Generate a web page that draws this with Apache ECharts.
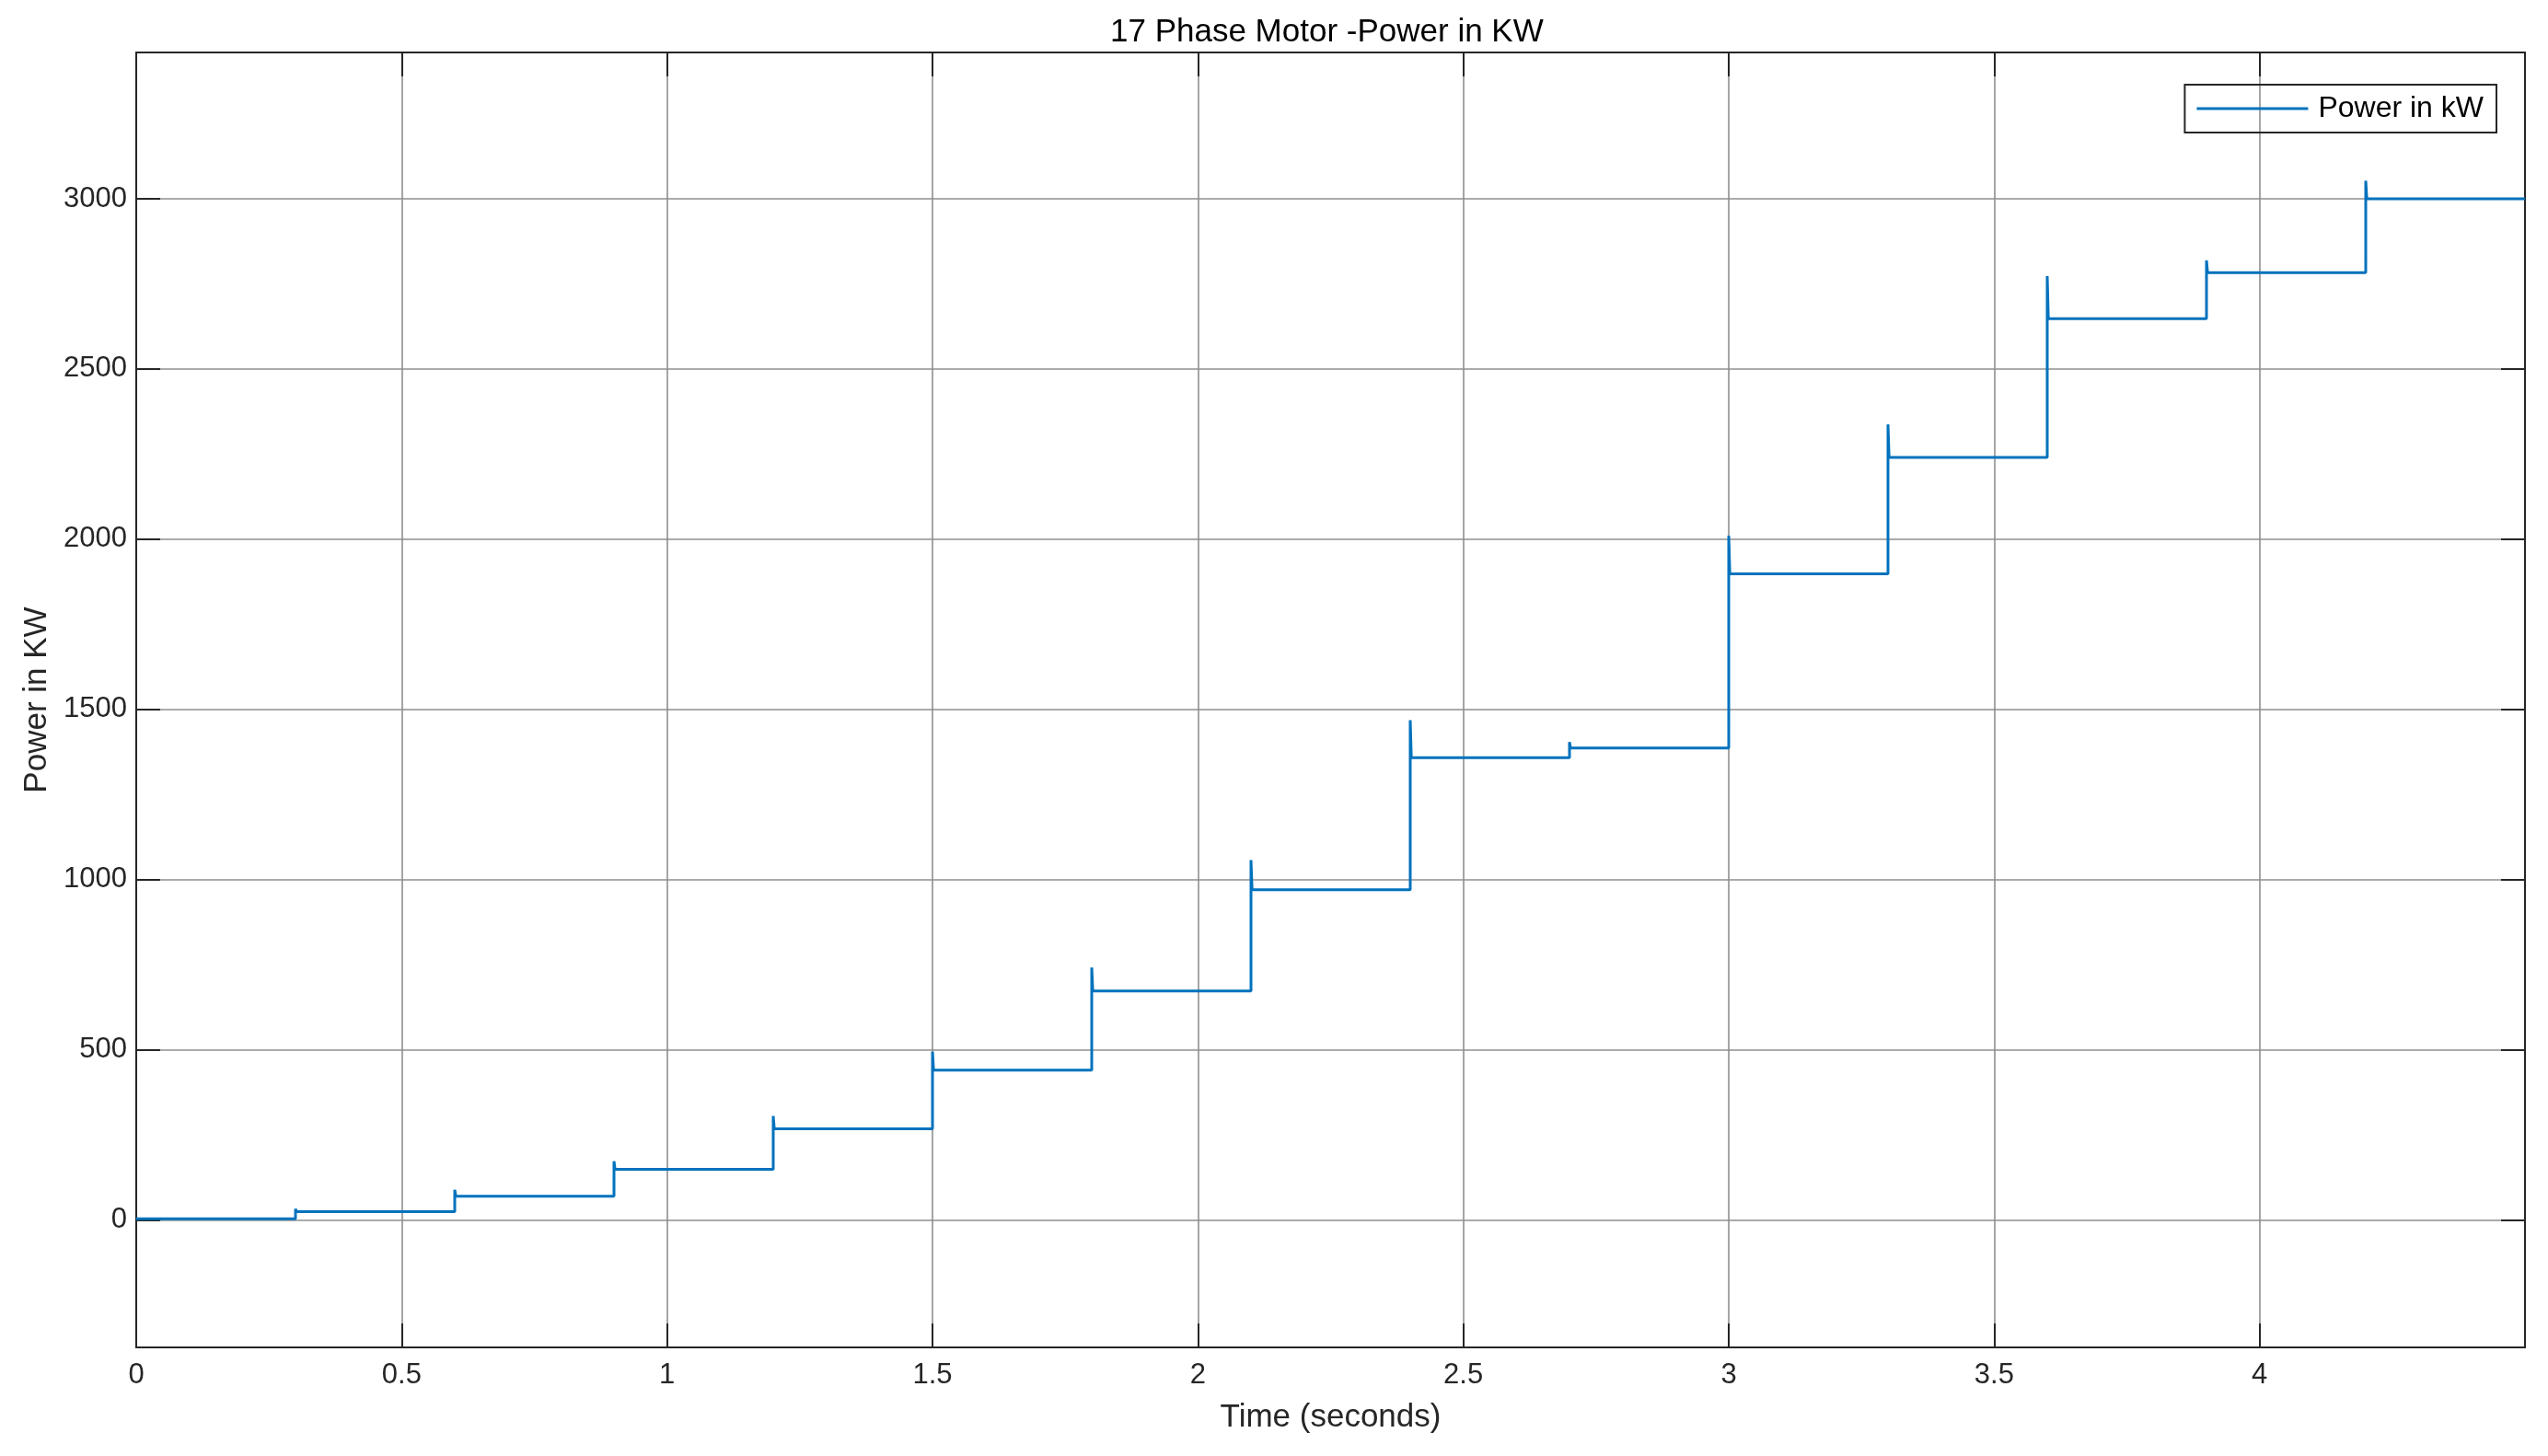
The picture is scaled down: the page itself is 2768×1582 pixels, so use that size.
<!DOCTYPE html>
<html>
<head>
<meta charset="utf-8">
<script src="https://cdn.jsdelivr.net/npm/echarts@6/dist/echarts.min.js"></script>
<style>
html,body{margin:0;padding:0;background:#fff;}
#chart{width:2768px;height:1582px;}
</style>
</head>
<body>
<div id="chart"></div>
<script>
// ---- data ----
const timeStart = 0;
const timeEnd = 4.5;
const stepTimes = [0.3, 0.6, 0.9, 1.2, 1.5, 1.8, 2.1, 2.4, 2.7, 3.0, 3.3, 3.6, 3.9, 4.2];
const stepLevels = [3, 24, 69, 148, 267, 440, 672, 970, 1358, 1386, 1898, 2240, 2648, 2783, 3000];
const spikePeaks = [32, 88, 172, 305, 494, 741, 1057, 1468, 1404, 2010, 2337, 2773, 2819, 3053];
const xTickInterval = 0.5;
const yMin = -375, yMax = 3430;
const seriesName = 'Power in kW';
const titleText = '17 Phase Motor -Power in KW';
const xName = 'Time (seconds)';
const yName = 'Power in KW';

// build step trace with switching spikes
const powerData = [[timeStart, stepLevels[0]]];
for (let i = 0; i < stepTimes.length; i++) {
  const t = stepTimes[i];
  powerData.push([t, stepLevels[i]]);
  powerData.push([t, spikePeaks[i]]);
  powerData.push([t + 0.002, stepLevels[i + 1]]);
}
powerData.push([timeEnd, stepLevels[stepLevels.length - 1]]);

const FONT = '"Liberation Sans", Arial, Helvetica, sans-serif';
const AX = '#262626';
const GRID = '#8f8f8f';
const LINE = '#0072BD';

const chart = echarts.init(document.getElementById('chart'), null, {renderer: 'canvas'});
const tickStyle = {show: true, inside: true, length: 26, lineStyle: {color: AX, width: 2}};
const lineStyleAx = {show: true, onZero: false, lineStyle: {color: AX, width: 2}};

chart.setOption({
  backgroundColor: '#fff',
  animation: false,
  title: {
    text: titleText,
    left: 1206,
    top: 18,
    padding: 0,
    textStyle: {fontFamily: FONT, fontSize: 35, fontWeight: 'normal', color: '#000'}
  },
  legend: {
    right: 56,
    top: 92,
    padding: [10, 14, 10, 13],
    borderColor: AX,
    borderWidth: 2,
    borderRadius: 0,
    itemWidth: 121,
    itemHeight: 3,
    data: [{name: seriesName, icon: 'rect', itemStyle: {color: LINE}}],
    textStyle: {fontFamily: FONT, fontSize: 32, color: '#000', padding: [0, 0, 0, 6]}
  },
  grid: {left: 148, right: 25, top: 57, bottom: 118, containLabel: false, outerBoundsMode: 'none'},
  xAxis: [{
    type: 'value',
    min: timeStart, max: timeEnd, interval: xTickInterval,
    position: 'bottom',
    name: xName, nameLocation: 'middle', nameGap: 59,
    nameTextStyle: {fontFamily: FONT, fontSize: 35, color: AX},
    axisLine: lineStyleAx,
    axisTick: tickStyle,
    axisLabel: {fontFamily: FONT, fontSize: 31, color: AX, margin: 15, showMaxLabel: false},
    splitLine: {show: true, lineStyle: {color: GRID, width: 1.6}}
  }, {
    type: 'value',
    min: timeStart, max: timeEnd, interval: xTickInterval,
    position: 'top',
    axisLine: lineStyleAx,
    axisTick: tickStyle,
    axisLabel: {show: false},
    splitLine: {show: false}
  }],
  yAxis: [{
    type: 'value',
    min: yMin, max: yMax, splitNumber: 7,
    position: 'left',
    name: yName, nameLocation: 'middle', nameGap: 81,
    nameTextStyle: {fontFamily: FONT, fontSize: 35, color: AX},
    axisLine: lineStyleAx,
    axisTick: tickStyle,
    axisLabel: {fontFamily: FONT, fontSize: 31, color: AX, margin: 10,
      showMinLabel: false, showMaxLabel: false,
      formatter: v => String(v)},
    splitLine: {show: true, lineStyle: {color: GRID, width: 1.6}}
  }, {
    type: 'value',
    min: yMin, max: yMax, splitNumber: 7,
    position: 'right',
    axisLine: lineStyleAx,
    axisTick: tickStyle,
    axisLabel: {show: false},
    splitLine: {show: false}
  }],
  series: [{
    name: seriesName,
    type: 'line',
    xAxisIndex: 0, yAxisIndex: 0,
    data: powerData,
    showSymbol: false,
    symbol: 'none',
    lineStyle: {color: LINE, width: 3},
    itemStyle: {color: LINE},
    z: 5
  }]
});
</script>
</body>
</html>
